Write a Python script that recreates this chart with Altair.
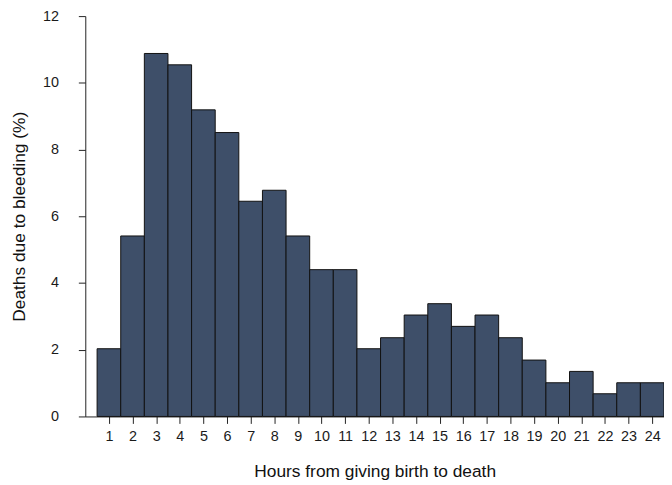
import altair as alt
import pandas as pd

hours = list(range(1, 25))
deaths_pct = [2.03, 5.41, 10.88, 10.54, 9.19, 8.51, 6.45, 6.78, 5.41, 4.40, 4.40, 2.03,
              2.36, 3.04, 3.38, 2.70, 3.04, 2.36, 1.69, 1.01, 1.35, 0.68, 1.01, 1.01]

df = pd.DataFrame({"hour": hours, "pct": deaths_pct})
df["x0"] = df["hour"] - 0.5
df["x1"] = df["hour"] + 0.5

FONT = "Liberation Sans"

bars = alt.Chart(df).mark_bar(
    color="#3E4F69", stroke="#111111", strokeWidth=1
).encode(
    x=alt.X("x0:Q",
            scale=alt.Scale(domain=[0, 24.5], nice=False, zero=False),
            axis=alt.Axis(values=hours, title="Hours from giving birth to death",
                          grid=False, tickSize=7, labelPadding=6,
                          labelFontSize=14.5, titleFontSize=17.5,
                          titleFontWeight="normal", titleBaseline="alphabetic",
                          titleY=61, format="d",
                          domainColor="#222222", tickColor="#222222",
                          labelColor="#1a1a1a", titleColor="#111111")),
    x2="x1:Q",
    y=alt.Y("pct:Q",
            scale=alt.Scale(domain=[0, 12], nice=False),
            axis=alt.Axis(values=[0, 2, 4, 6, 8, 10, 12],
                          title="Deaths due to bleeding (%)",
                          grid=False, tickSize=7, labelPadding=20,
                          labelFontSize=14.5, titleFontSize=17.5,
                          titleFontWeight="normal", titleBaseline="alphabetic",
                          titleX=-61,
                          domainColor="#222222", tickColor="#222222",
                          labelColor="#1a1a1a", titleColor="#111111")),
    y2=alt.datum(0),
)

chart = bars.properties(
    width=584, height=404,
    autosize=alt.AutoSizeParams(type="none"),
    padding={"left": 78, "top": 6, "right": 0, "bottom": 67},
).configure(font=FONT).configure_view(stroke=None)

chart.save("out.html", embed_options={"renderer": "svg", "actions": False})
